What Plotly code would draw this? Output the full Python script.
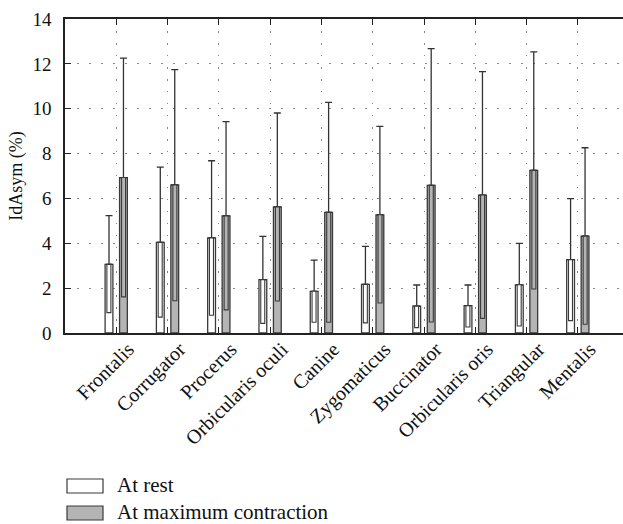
import plotly.graph_objects as go

categories = ["Frontalis", "Corrugator", "Procerus", "Orbicularis oculi", "Canine",
              "Zygomaticus", "Buccinator", "Orbicularis oris", "Triangular", "Mentalis"]
rest_mean = [3.06, 4.04, 4.24, 2.38, 1.86, 2.17, 1.20, 1.22, 2.15, 3.27]
rest_low = [0.91, 0.71, 0.79, 0.43, 0.48, 0.45, 0.24, 0.27, 0.31, 0.55]
rest_sd = [2.17, 3.36, 3.44, 1.93, 1.39, 1.69, 0.94, 0.92, 1.85, 2.72]
max_mean = [6.93, 6.60, 5.22, 5.62, 5.38, 5.27, 6.58, 6.15, 7.25, 4.32]
max_low = [1.61, 1.44, 1.03, 1.43, 0.48, 1.34, 0.49, 0.65, 1.96, 0.39]
max_sd = [5.33, 5.14, 4.20, 4.19, 4.90, 3.94, 6.10, 5.50, 5.28, 3.94]
legend_labels = ["At rest", "At maximum contraction"]
y_ticks = [0, 2, 4, 6, 8, 10, 12, 14]

W, H = 623, 524
L, T, B = 65, 19, 333
FONT = "Liberation Serif"
EDGE = "#3a3a3a"
GRAY = "#b4b4b4"

x = list(range(len(categories)))
fig = go.Figure()

def add_series(mean, low, sd, fill, off_outer, off_inner):
    fig.add_trace(go.Bar(
        x=x, y=mean, offset=off_outer, width=0.152,
        marker=dict(color=fill, line=dict(color=EDGE, width=1.3)),
        error_y=dict(type="data", symmetric=False, array=sd,
                     arrayminus=[0] * len(sd), color="#333333",
                     thickness=1.3, width=3.5),
        showlegend=False, hoverinfo="skip"))
    fig.add_trace(go.Bar(
        x=x, y=[m - l for m, l in zip(mean, low)], base=low,
        offset=off_inner, width=0.078,
        marker=dict(color=fill, line=dict(color=EDGE, width=1.1)),
        showlegend=False, hoverinfo="skip"))

add_series(rest_mean, rest_low, rest_sd, "white", -0.218, -0.183)
add_series(max_mean, max_low, max_sd, GRAY, 0.064, 0.103)

# legend drawn manually
def px2x(p):
    return (p - L) / (W - L)

def py2y(p):
    return (B - p) / (B - T)

legend_rows = [(479, 493, "white"), (506, 520, GRAY)]
for (y0, y1, c), lab in zip(legend_rows, legend_labels):
    fig.add_shape(type="rect", xref="paper", yref="paper",
                  x0=px2x(67), x1=px2x(103), y0=py2y(y1), y1=py2y(y0),
                  fillcolor=c, line=dict(color=EDGE, width=1.2))
    fig.add_annotation(xref="paper", yref="paper", x=px2x(115), y=py2y((y0 + y1) / 2 - 1),
                       text=lab, showarrow=False, xanchor="left", yanchor="middle",
                       font=dict(family=FONT, size=21, color="#111"))

fig.update_layout(
    width=W, height=H, barmode="overlay",
    margin=dict(l=L, r=0, t=T, b=H - B),
    plot_bgcolor="white", paper_bgcolor="white",
    font=dict(family=FONT, size=18, color="#111"),
    xaxis=dict(range=[-1, 9.88], tickvals=x, ticktext=categories, tickangle=-45,
               ticks="inside", ticklen=6, tickcolor="#222", tickwidth=1.3,
               showline=True, linecolor="#222", linewidth=1.5, mirror="ticks",
               showgrid=True, gridcolor="#888", gridwidth=1.2, griddash="1.5px,10.5px",
               zeroline=False, tickfont=dict(size=20), automargin=False,
               ticklabelshift=12, ticklabelstandoff=-5),
    yaxis=dict(range=[0, 14], tickvals=y_ticks, ticks="inside", ticklen=6,
               tickcolor="#222", tickwidth=1.3, showline=True, linecolor="#222",
               linewidth=1.5, showgrid=True, gridcolor="#888", gridwidth=1.2,
               griddash="1.5px,10.5px", zeroline=False, ticklabelstandoff=8,
               tickfont=dict(size=19), automargin=False,
               title=dict(text="IdAsym (%)", font=dict(size=18), standoff=5)),
)

fig.write_html("out.html", config={"displayModeBar": False},
               post_script="document.body.style.margin='0';document.body.style.overflow='hidden';")
